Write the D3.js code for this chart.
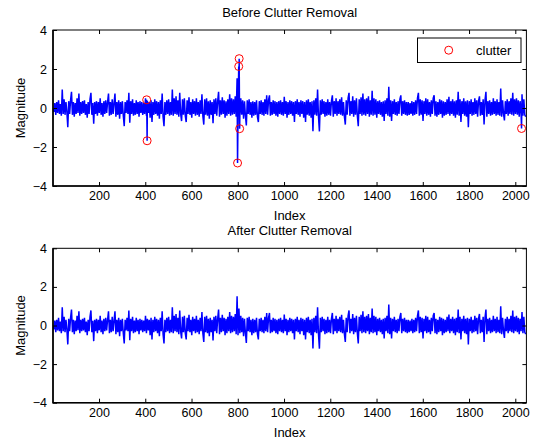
<!DOCTYPE html>
<html>
<head>
<meta charset="utf-8">
<script src="https://cdn.jsdelivr.net/npm/d3@7"></script>
<style>
  body { margin: 0; background: #fff; }
  svg { display: block; font-family: 'Liberation Sans', Arial, Helvetica, sans-serif; }
  .tick text { font-size: 12.5px; fill: #000; }
  .tick line { stroke: #000; }
</style>
</head>
<body>
<div id="content"></div>
<script>
'use strict';

// signal after clutter removal, one value every 4 samples (sample = 1 + 4*k)
var sampleStep = 4
var signal = [
  0, -0.2, 0.25, -0.35, 0.3, -0.25, 0.4, -0.3, 0.2, -0.4, 0.95, -0.3, 0.45, -0.35, 0.3, -0.2,
  -0.98, 0.35, -0.3, 0.4, 0.83, -0.35, 0.3, -0.45, 0.25, -0.3, 0.5, -0.25, 0.74, -0.4, 0.3, -0.3,
  0.35, -0.25, 0.4, -0.35, 0.2, -0.5, 0.3, -0.3, 0.45, 0.78, -0.35, 0.25, -0.81, 0.3, -0.3, 0.35,
  -0.4, 0.3, -0.25, 0.5, -0.35, 0.25, -0.45, 0.35, -0.3, 0.4, -0.25, 0.3, 0.74, -0.4, 0.3, -0.35,
  0.45, -0.3, 0.25, 0.74, -0.45, 0.3, -0.35, 0.4, -0.55, 0.3, -0.3, 0.35, -0.4, -0.93, 0.3, -0.25,
  0.4, -0.3, 0.78, -0.76, 0.35, -0.3, 0.45, -0.4, 0.25, -0.35, 0.4, -0.3, 0.3, -0.45, 0.35, -0.25,
  0.3, -0.35, 0.25, -0.3, 0.5, -0.4, 0.35, -0.25, 0.3, -0.5, 0.4, -0.72, 0.3, -0.35, 0.45, -0.3,
  0.35, -0.4, 0.3, -0.55, 0.4, -0.3, 0.74, -0.45, -0.93, 0.3, -0.35, 0.4, -0.3, 0.45, -0.4, 0.3,
  -0.35, 0.95, -0.4, 0.5, -0.3, 0.6, -0.35, 0.4, -0.45, 0.78, -0.3, -0.67, 0.45, -0.35, 0.5, -0.4,
  -0.72, 0.4, -0.3, 0.55, -0.35, 0.3, -0.5, 0.45, -0.3, 0.35, -0.4, 0.5, -0.35, 0.3, -0.45, 0.4,
  -0.3, 0.7, -0.4, -0.85, 0.45, -0.35, 0.5, -0.4, 0.35, -0.55, 0.4, -0.35, 0.3, -0.78, 0.45, -0.3,
  0.5, -0.4, 0.35, 0.83, -0.45, 0.4, -0.35, 0.55, -0.3, 0.4, -0.5, 0.35, -0.4, 0.45, -0.3, 0.7,
  -0.4, 0.5, -0.35, 0.45, -0.3, 0.6, -0.45, 1.52, -0.5, 0.88, -0.4, 0.5, -0.35, 0.4, -0.55, 0.35,
  -0.4, -0.9, 0.4, -0.3, 0.45, -0.35, 0.3, -0.5, 0.35, -0.4, 0.3, -0.35, 0.4, -0.45, -0.72, 0.35,
  -0.3, 0.4, -0.35, 0.3, -0.4, 0.45, -0.3, 0.65, -0.35, 0.4, 0.65, -0.4, 0.3, -0.35, 0.4, -0.3,
  0.35, -0.4, 0.3, -0.45, 0.35, -0.3, 0.4, -0.35, 0.3, -0.4, 0.57, -0.3, 0.35, -0.5, 0.3, -0.35,
  0.4, -0.3, 0.35, -0.4, 0.3, -0.72, 0.35, -0.3, 0.45, -0.35, 0.3, -0.45, 0.4, -0.3, 0.35, -0.5,
  0.3, -0.72, 0.4, -0.35, 0.45, -0.4, 0.3, -0.5, 0.35, -1.19, 0.4, -0.35, 0.5, -0.4, 0.95, -0.45,
  -1.2, 0.4, -0.35, 0.45, -0.3, 0.35, -0.45, 0.3, -0.4, 0.45, -0.35, 0.3, -0.4, 0.35, 0.65, -0.45,
  0.35, -0.3, 0.5, -0.4, 0.35, -0.3, 0.45, -0.35, 0.55, -0.4, 0.3, -0.45, -0.85, 0.4, -0.35, 0.5,
  0.78, -0.4, 0.35, -0.3, 0.6, -0.45, 0.4, -0.35, 0.5, -0.4, -0.93, 0.45, -0.3, 0.55, -0.4, 0.74,
  -0.35, 0.45, -0.4, 0.5, -0.3, 0.6, -0.45, 0.4, -0.35, 0.88, -0.4, 0.5, -0.35, 0.45, -0.5, 0.35,
  -0.3, 0.4, -0.35, 0.3, -0.45, 0.35, -0.67, 0.4, -0.3, 0.5, -0.4, 1.09, -0.45, 0.4, -0.67, 0.35,
  -0.3, 0.45, -0.35, 0.3, -0.4, 0.35, -0.3, 0.45, 0.65, -0.4, 0.35, -0.3, 0.4, -0.35, 0.3, -0.4,
  0.3, -0.35, 0.25, -0.3, 0.35, -0.4, 0.3, -0.35, 0.4, -0.3, 0.5, 0.78, -0.4, 0.45, -0.35, 0.4,
  -0.67, 0.35, -0.3, 0.5, -0.4, 0.45, -0.35, 0.3, -0.45, 0.4, -0.3, 0.5, 0.65, -0.4, 0.35, -0.45,
  0.3, -0.35, 0.45, -0.3, 0.4, -0.5, 0.35, -0.4, 0.3, -0.35, 0.45, -0.3, 0.57, -0.4, 0.35, -0.3,
  0.45, -0.4, 0.35, -0.5, 0.4, -0.35, 0.83, -0.4, 0.45, -0.72, 0.35, -0.3, 0.5, -0.4, 0.35, -0.45,
  0.4, -0.98, 0.35, -0.3, 0.45, -0.4, 0.3, -0.35, 0.5, -0.3, 0.4, -0.45, 0.35, 0.6, -0.4, 0.3,
  -0.35, 0.45, -0.85, 0.4, 0.83, -0.45, 0.35, -0.3, 0.4, -0.4, 0.3, -0.35, 0.5, -0.3, 0.35, -0.4,
  0.45, -0.35, 0.3, -0.4, 1.0, -0.45, 0.4, -0.3, -0.64, 0.35, -0.3, 0.45, -0.4, 0.35, -0.3, 0.5,
  -0.35, 0.78, -0.4, 0.45, -0.3, 0.5, -0.35, 0.4, -0.45, 0.35, -0.3, 0.7, -0.4, 0.45, -0.35, -0.45
]

// clutter samples (only present before removal)
var clutterIdx = [406, 408, 799, 804, 806, 808, 2027]
var clutterVal = [0.42, -1.68, -2.82, 2.13, 2.53, -1.06, -1.05]

var xTicks = [200, 400, 600, 800, 1000, 1200, 1400, 1600, 1800, 2000]
var yTicks = [-4, -2, 0, 2, 4]
var titles = ['Before Clutter Removal', 'After Clutter Removal']

var width = 536, height = 443
var svg = d3.select('#content').append('svg').attr('width', width).attr('height', height)
svg.append('rect').attr('width', width).attr('height', height).attr('fill', '#fff')

var after = signal.map(function(v, k) { return { i: 1 + sampleStep * k, v: v } })
var clutter = clutterIdx.map(function(d, j) { return { i: d, v: clutterVal[j] } })
var before = after.concat(clutter).sort(function(a, b) { return a.i - b.i })

var x = d3.scaleLinear().domain([1, 2048]).range([53, 526.4])
var fmt = d3.format('d')

function drawPanel(top, bottom, data, title, withClutter, id) {
    var y = d3.scaleLinear().domain([-4, 4]).range([bottom, top])
    var left = x.range()[0], right = x.range()[1]
    var g = svg.append('g')

    g.append('clipPath').attr('id', 'clip' + id)
        .append('rect').attr('x', left).attr('y', top).attr('width', right - left).attr('height', bottom - top)

    var line = d3.line().x(function(d) { return x(d.i) }).y(function(d) { return y(d.v) })
    g.append('path').datum(data)
        .attr('clip-path', 'url(#clip' + id + ')')
        .attr('d', line)
        .attr('fill', 'none')
        .attr('stroke', '#0000ff')
        .attr('stroke-width', 1.5)
        .attr('stroke-linejoin', 'bevel')

    if (withClutter) {
        g.selectAll('.clut').data(clutter).enter().append('circle')
            .attr('cx', function(d) { return x(d.i) })
            .attr('cy', function(d) { return y(d.v) })
            .attr('r', 4)
            .attr('fill', 'none')
            .attr('stroke', '#ff0000')
            .attr('stroke-width', 1)
    }

    // axes, ticks pointing inward like matlab
    g.append('g').attr('transform', 'translate(0,' + bottom + ')')
        .call(d3.axisBottom(x).tickValues(xTicks).tickFormat(fmt).tickSizeInner(-4).tickSizeOuter(0).tickPadding(5))
    g.append('g').attr('transform', 'translate(0,' + top + ')')
        .call(d3.axisTop(x).tickValues(xTicks).tickSizeInner(-4).tickSizeOuter(0).tickFormat(''))
    g.append('g').attr('transform', 'translate(' + left + ',0)')
        .call(d3.axisLeft(y).tickValues(yTicks).tickFormat(fmt).tickSizeInner(-4).tickSizeOuter(0).tickPadding(6))
    g.append('g').attr('transform', 'translate(' + right + ',0)')
        .call(d3.axisRight(y).tickValues(yTicks).tickSizeInner(-4).tickSizeOuter(0).tickFormat(''))
    g.selectAll('.domain').remove()

    g.append('rect').attr('x', left).attr('y', top).attr('width', right - left).attr('height', bottom - top)
        .attr('fill', 'none').attr('stroke', '#000').attr('stroke-width', 1)
    g.append('path').attr('d', 'M' + left + ',' + top + 'V' + bottom + 'H' + right)
        .attr('fill', 'none').attr('stroke', '#000').attr('stroke-width', 1.6)

    g.append('text').attr('x', (left + right) / 2).attr('y', top - 13)
        .attr('text-anchor', 'middle').attr('font-size', 13).text(title)
    g.append('text').attr('x', (left + right) / 2).attr('y', bottom + 34)
        .attr('text-anchor', 'middle').attr('font-size', 13).text('Index')
    g.append('text').attr('transform', 'translate(25,' + (top + bottom) / 2 + ') rotate(-90)')
        .attr('text-anchor', 'middle').attr('font-size', 13).text('Magnitude')
    return y
}

drawPanel(30, 186, before, titles[0], true, 0)
drawPanel(248.3, 402.7, after, titles[1], false, 1)

// legend
var lg = svg.append('g')
lg.append('rect').attr('x', 417.5).attr('y', 38).attr('width', 103.5).attr('height', 24.5)
    .attr('fill', '#fff').attr('stroke', '#000').attr('stroke-width', 1)
lg.append('circle').attr('cx', 448.7).attr('cy', 50.2).attr('r', 4)
    .attr('fill', 'none').attr('stroke', '#ff0000').attr('stroke-width', 1)
lg.append('text').attr('x', 476).attr('y', 54.5).attr('font-size', 13).text('clutter')
</script>
</body>
</html>
